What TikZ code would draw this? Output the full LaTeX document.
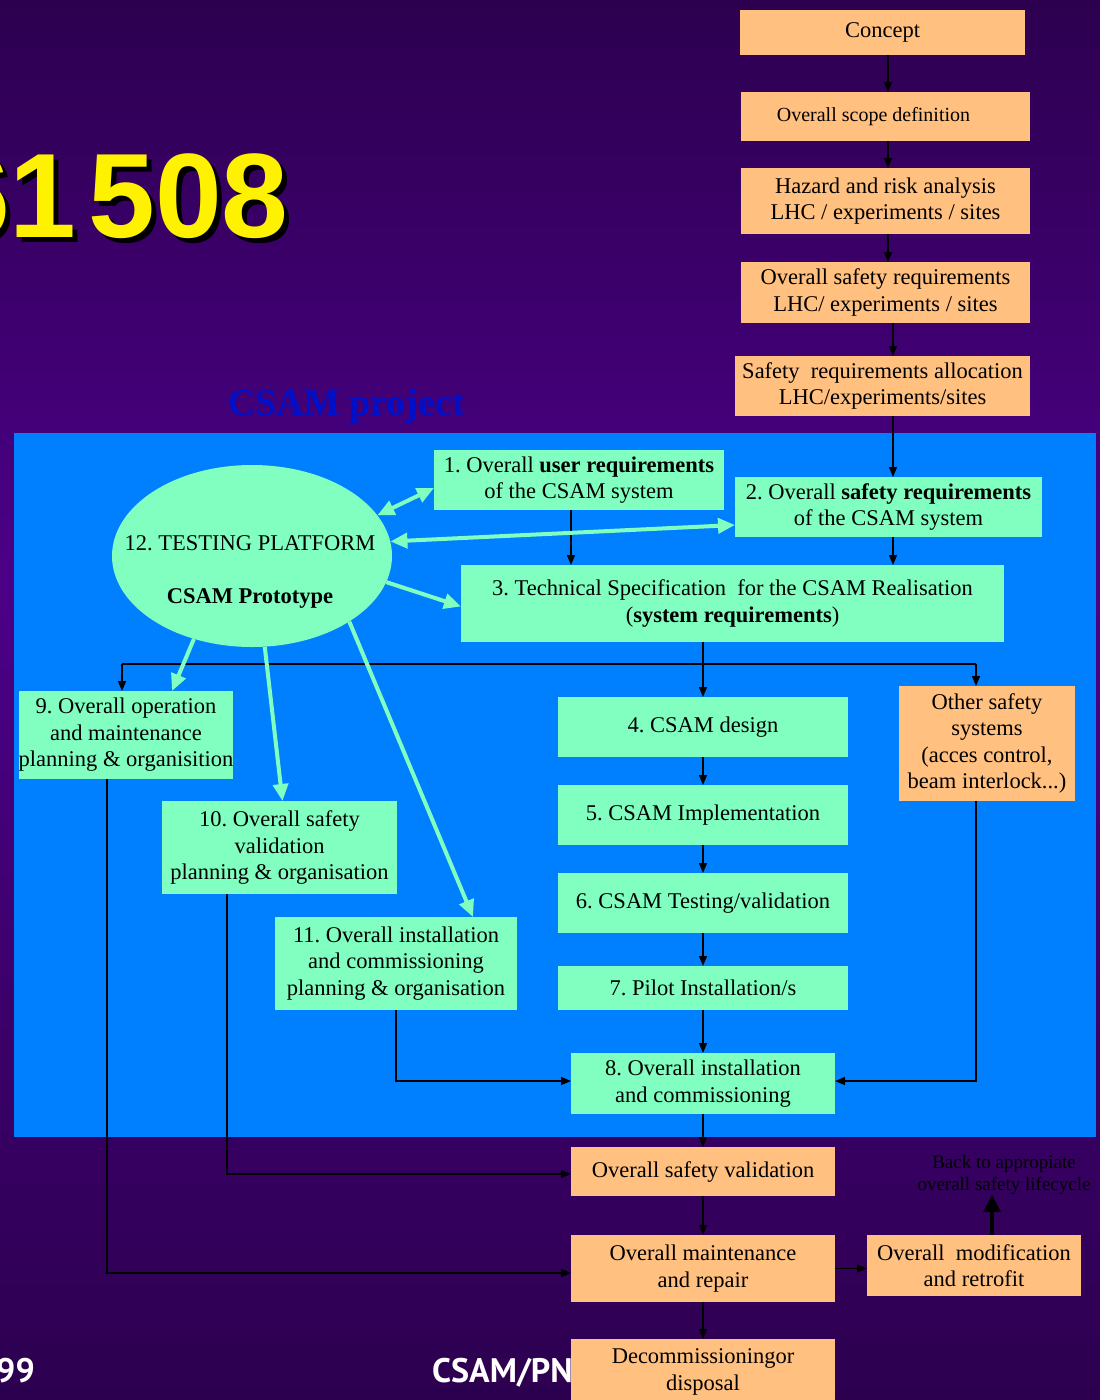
\documentclass[tikz,border=0pt]{standalone}
\usepackage{fontspec}
\setmainfont{Liberation Serif}
\newfontfamily\titlefont{Liberation Sans}
\newfontfamily\footfont{PT Sans}
\usetikzlibrary{arrows.meta,shapes.geometric}
\frenchspacing

\definecolor{bgdark}{HTML}{2C004F}
\definecolor{bgmid}{HTML}{4C0088}
\definecolor{panel}{HTML}{0080FF}
\definecolor{mint}{HTML}{80FFC0}
\definecolor{peach}{HTML}{FFC080}
\definecolor{projblue}{HTML}{0010C8}

\tikzset{
  box/.style={font=\fontsize{22.5}{26.5}\selectfont, align=center, inner sep=0pt, outer sep=0pt},
  pbox/.style={box, fill=peach},
  mbox/.style={box, fill=mint},
  wh/.style 2 args={minimum width=#1pt, minimum height=#2pt},
  plain/.style={line width=1.4pt, black},
  link/.style={plain, -{Triangle[length=10pt,width=8pt]}},
  mlink/.style={line width=4pt, mint, -{Triangle[length=17pt,width=15pt]}},
  mlinktwo/.style={line width=4pt, mint, {Triangle[length=17pt,width=15pt]}-{Triangle[length=17pt,width=15pt]}},
  bigup/.style={line width=3.2pt, black, -{Triangle[length=17pt,width=17pt]}},
  titletext/.style={font=\titlefont\bfseries\fontsize{120}{120}\selectfont, anchor=base east, inner sep=0pt},
}

\begin{document}
\begin{tikzpicture}[x=1pt,y=-1pt]
\useasboundingbox (0,0) rectangle (1100,1400);
\clip (0,0) rectangle (1100,1400);

% purple backdrop, brightest around the middle
\shade[top color=bgdark, bottom color=bgmid] (0,0) rectangle (1100,580);
\shade[top color=bgmid, bottom color=bgdark] (0,579) rectangle (1100,1400);

% title with drop shadow
\node[titletext, text=black] (titleshadow) at (294,242) {61\hspace{12pt}508};
\node[titletext, text=yellow] (title) at (289,237) {61\hspace{12pt}508};

\node[font=\bfseries\fontsize{38}{38}\selectfont, text=projblue, anchor=base west, inner sep=0pt] (proj) at (228,415) {CSAM project};

% footer
\node[font=\footfont\bfseries\fontsize{34}{34}\selectfont, text=white, anchor=base east, inner sep=0pt] (year) at (35,1382) {99};
\node[font=\footfont\bfseries\fontsize{34}{34}\selectfont, text=white, anchor=base west, inner sep=0pt] (footer) at (432,1382) {CSAM/PN};

% project panel
\fill[panel] (14,433) rectangle (1096,1137);

% overall lifecycle, upper chain
\node[pbox, wh={285}{45}] (concept) at (882.5,32.5) {Concept};
\node[pbox, wh={289}{49}, font=\fontsize{20}{24}\selectfont] (scope) at (885.5,116.5) {Overall scope definition\hspace{24pt}};
\node[pbox, wh={289}{66}] (hazard) at (885.5,201) {Hazard and risk analysis\\LHC / experiments / sites};
\node[pbox, wh={289}{61}] (osr) at (885.5,292.5) {Overall safety requirements\\LHC/ experiments / sites};
\node[pbox, wh={295}{60}] (alloc) at (882.5,386) {Safety~ requirements allocation\\LHC/experiments/sites};

% CSAM project boxes
\node[mbox, wh={290}{60}] (b1) at (579,480) {1. Overall \textbf{user requirements}\\of the CSAM system};
\node[mbox, wh={307}{60}] (b2) at (888.5,507) {2. Overall \textbf{safety requirements}\\of the CSAM system};
\node[ellipse, fill=mint, minimum width=280pt, minimum height=182pt, inner sep=0pt] (ell) at (252,556) {};
\node[box] (elltext) at (250,572) {12. TESTING PLATFORM\\[27pt]\textbf{CSAM Prototype}};
\node[mbox, wh={543}{77}] (b3) at (732.5,603.5) {3. Technical Specification~ for the CSAM Realisation\\(\textbf{system requirements})};
\node[mbox, wh={214}{88}] (b9) at (126,735) {9. Overall operation\\and maintenance\\planning \& organisition};
\node[mbox, wh={235}{93}] (b10) at (279.5,847.5) {10. Overall safety\\validation\\planning \& organisation};
\node[mbox, wh={242}{93}] (b11) at (396,963.5) {11. Overall installation\\and commissioning\\planning \& organisation};
\node[mbox, wh={290}{60}] (b4) at (703,727) {4. CSAM design};
\node[mbox, wh={290}{60}] (b5) at (703,815) {5. CSAM Implementation};
\node[mbox, wh={290}{60}] (b6) at (703,903) {6. CSAM Testing/validation};
\node[mbox, wh={290}{44}] (b7) at (703,988) {7. Pilot Installation/s};
\node[mbox, wh={264}{61}] (b8) at (703,1083.5) {8. Overall installation\\and commissioning};
\node[pbox, wh={176}{115}] (other) at (987,743.5) {Other safety\\systems\\(acces control,\\beam interlock...)};

% lower chain
\node[pbox, wh={264}{49}] (osv) at (703,1171.5) {Overall safety validation};
\node[pbox, wh={264}{67}] (maint) at (703,1268.5) {Overall maintenance\\and repair};
\node[pbox, wh={214}{61}] (mod) at (974,1265.5) {Overall~ modification\\and retrofit};
\node[pbox, wh={264}{66}] (decom) at (703,1372) {Decommissioningor\\disposal};
\node[font=\fontsize{19}{22}\selectfont, align=center, inner sep=0pt] (back) at (1004,1175) {Back to appropiate\\overall safety lifecycle};

% upper chain connectors
\draw[link] ([xshift=5.5pt]concept.south) -- ([xshift=2.5pt]scope.north);
\draw[link] ([xshift=2.5pt]scope.south) -- ([xshift=2.5pt]hazard.north);
\draw[link] ([xshift=2.5pt]hazard.south) -- ([xshift=2.5pt]osr.north);
\draw[link] ([xshift=7.5pt]osr.south) -- ([xshift=10.5pt]alloc.north);
\draw[link] ([xshift=10.5pt]alloc.south) -- ([xshift=4.5pt]b2.north);

% requirements into specification
\draw[link] ([xshift=-8pt]b1.south) -- ([xshift=-161.5pt]b3.north);
\draw[link] ([xshift=4.5pt]b2.south) -- ([xshift=160.5pt]b3.north);
\draw[link] ([xshift=-29.5pt]b3.south) -- (b4.north);

% distribution bus below the specification
\coordinate (bus) at ([yshift=-22pt]b4.north |- b3.south);
\draw[plain] ([xshift=-4pt]b9.north |- bus) -- ([xshift=-11pt]other.north |- bus);
\draw[link] ([xshift=-4pt]b9.north |- bus) -- ([xshift=-4pt]b9.north);
\draw[link] ([xshift=-11pt]other.north |- bus) -- ([xshift=-11pt]other.north);

% realisation chain
\draw[link] (b4.south) -- (b5.north);
\draw[link] (b5.south) -- (b6.north);
\draw[link] (b6.south) -- (b7.north);
\draw[link] (b7.south) -- (b8.north);
\draw[link] (b8.south) -- (osv.north);
\draw[link] (osv.south) -- (maint.north);
\draw[link] (maint.south) -- (decom.north);
\draw[link] (maint.east) -- (maint.east -| mod.west);
\draw[bigup] ([xshift=18pt]mod.north) -- ([xshift=18pt]mod.north |- back.south);

% planning outputs
\draw[link] ([xshift=-11pt]other.south) |- ([yshift=2.5pt]b8.east);
\draw[link] (b11.south) |- ([yshift=2.5pt]b8.west);
\draw[link] ([xshift=-52.5pt]b10.south) |- ([yshift=-2.5pt]osv.west);
\draw[link] ([xshift=-19pt]b9.south) |- ([yshift=-4.5pt]maint.west);

% testing platform links
\draw[mlinktwo] (ell.18) -- ([yshift=-8pt]b1.west);
\draw[mlinktwo] (ell.6) -- ([yshift=-18pt]b2.west);
\draw[mlink] (ell.-11) -- ([yshift=-3pt]b3.west);
\draw[mlink] (ell.235) -- ([xshift=46pt]b9.north);
\draw[mlink] (ell.-82) -- ([xshift=3pt]b10.north);
\draw[mlink] (ell.-34) -- ([xshift=77pt]b11.north);
\end{tikzpicture}
\end{document}
